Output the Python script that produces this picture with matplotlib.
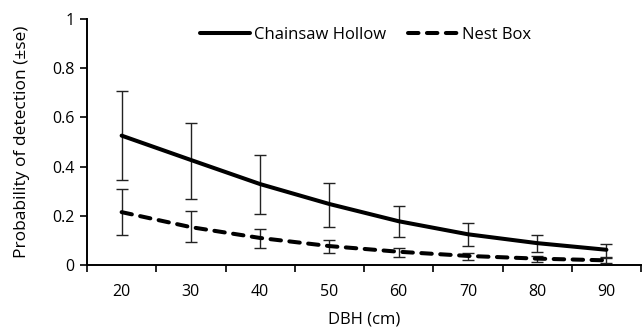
import matplotlib
matplotlib.use("Agg")
import matplotlib.pyplot as plt
from matplotlib.ticker import FixedLocator, NullFormatter, FixedFormatter

plt.rcParams["font.family"] = ["Open Sans", "DejaVu Sans"]

dbh = ["20", "30", "40", "50", "60", "70", "80", "90"]

chainsaw = [0.526, 0.427, 0.329, 0.248, 0.178, 0.125, 0.089, 0.062]
chainsaw_hi = [0.708, 0.578, 0.448, 0.333, 0.240, 0.171, 0.121, 0.087]
chainsaw_lo = [0.345, 0.268, 0.207, 0.156, 0.114, 0.078, 0.053, 0.033]

nestbox = [0.215, 0.154, 0.110, 0.077, 0.054, 0.037, 0.026, 0.019]
nestbox_hi = [0.310, 0.218, 0.148, 0.102, 0.071, 0.049, 0.035, 0.027]
nestbox_lo = [0.121, 0.092, 0.068, 0.049, 0.034, 0.022, 0.013, 0.008]

fig = plt.figure(figsize=(6.42, 3.28), dpi=100)
ax = fig.add_axes([0.1355, 0.192, 0.8630, 0.750])

x = list(range(len(dbh)))


def draw(vals, lo, hi, style, label):
    err = [[v - l for v, l in zip(vals, lo)], [h - v for v, h in zip(vals, hi)]]
    ax.errorbar(x, vals, yerr=err, fmt="none", ecolor="#222222",
                elinewidth=1.0, capsize=4, capthick=1.0, zorder=2)
    line, = ax.plot(x, vals, color="black", linewidth=2.9, linestyle=style,
                    label=label, zorder=3, dash_capstyle="round",
                    solid_capstyle="round")
    return line


draw(chainsaw, chainsaw_lo, chainsaw_hi, "-", "Chainsaw Hollow")
nb = draw(nestbox, nestbox_lo, nestbox_hi, "--", "Nest Box")
nb.set_dashes((2.6, 2.1))

ax.set_xlim(-0.5, len(dbh) - 0.5)
ax.set_ylim(0, 1)
ax.set_yticks([0, 0.2, 0.4, 0.6, 0.8, 1.0])
ax.set_yticklabels(["0", "0.2", "0.4", "0.6", "0.8", "1"])

ax.xaxis.set_major_locator(FixedLocator([i - 0.5 for i in range(len(dbh) + 1)]))
ax.xaxis.set_major_formatter(NullFormatter())
ax.xaxis.set_minor_locator(FixedLocator(x))
ax.xaxis.set_minor_formatter(FixedFormatter(dbh))
ax.tick_params(axis="x", which="minor", length=0, pad=14, labelsize=11.5)
ax.tick_params(axis="x", which="major", length=5, width=1.2, direction="out")
ax.tick_params(axis="y", length=5, width=1.2, direction="out", labelsize=11.5, pad=4)

for side in ["top", "right"]:
    ax.spines[side].set_visible(False)
for side in ["left", "bottom"]:
    ax.spines[side].set_linewidth(1.4)

ax.set_xlabel("DBH (cm)", fontsize=12, labelpad=8)
ax.set_ylabel("Probability of detection (±se)", fontsize=12.5, labelpad=16)

ax.legend(loc="upper center", bbox_to_anchor=(0.503, 1.03), ncol=2, frameon=False,
          fontsize=12, handlelength=3.0, handletextpad=0.25, columnspacing=1.3)

fig.savefig("out.png", dpi=100)
